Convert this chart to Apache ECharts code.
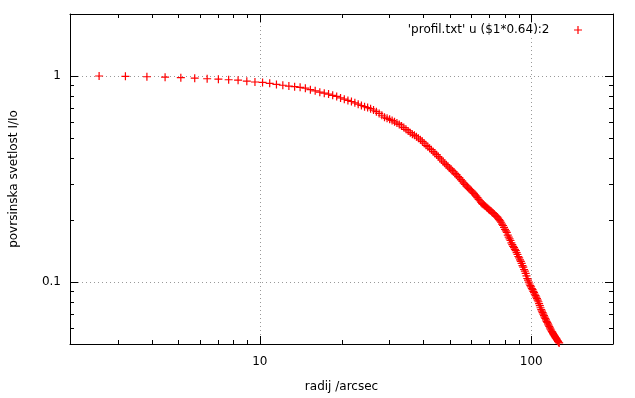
<!DOCTYPE html>
<html>
<head>
<meta charset="UTF-8">
<title>profil</title>
<script src="https://cdn.jsdelivr.net/npm/echarts@6/dist/echarts.min.js"></script>
<style>
  html, body { margin: 0; padding: 0; background: #fff; }
  #chart { width: 635px; height: 398px; }
</style>
</head>
<body>
<div id="chart"></div>
<script>
// radij (column 1 * 0.64), arcsec
const radius = [
  2.56, 3.2, 3.84, 4.48, 5.12, 5.76, 6.4, 7.04, 7.68, 8.32, 8.96, 9.6,
  10.24, 10.88, 11.52, 12.16, 12.8, 13.44, 14.08, 14.72, 15.36, 16, 16.64, 17.28,
  17.92, 18.56, 19.2, 19.84, 20.48, 21.12, 21.76, 22.4, 23.04, 23.68, 24.32, 24.96,
  25.6, 26.24, 26.88, 27.52, 28.16, 28.8, 29.44, 30.08, 30.72, 31.36, 32, 32.64,
  33.28, 33.92, 34.56, 35.2, 35.84, 36.48, 37.12, 37.76, 38.4, 39.04, 39.68, 40.32,
  40.96, 41.6, 42.24, 42.88, 43.52, 44.16, 44.8, 45.44, 46.08, 46.72, 47.36, 48,
  48.64, 49.28, 49.92, 50.56, 51.2, 51.84, 52.48, 53.12, 53.76, 54.4, 55.04, 55.68,
  56.32, 56.96, 57.6, 58.24, 58.88, 59.52, 60.16, 60.8, 61.44, 62.08, 62.72, 63.36,
  64, 64.64, 65.28, 65.92, 66.56, 67.2, 67.84, 68.48, 69.12, 69.76, 70.4, 71.04,
  71.68, 72.32, 72.96, 73.6, 74.24, 74.88, 75.52, 76.16, 76.8, 77.44, 78.08, 78.72,
  79.36, 80, 80.64, 81.28, 81.92, 82.56, 83.2, 83.84, 84.48, 85.12, 85.76, 86.4,
  87.04, 87.68, 88.32, 88.96, 89.6, 90.24, 90.88, 91.52, 92.16, 92.8, 93.44, 94.08,
  94.72, 95.36, 96, 96.64, 97.28, 97.92, 98.56, 99.2, 99.84, 100.48, 101.12, 101.76,
  102.4, 103.04, 103.68, 104.32, 104.96, 105.6, 106.24, 106.88, 107.52, 108.16, 108.8, 109.44,
  110.08, 110.72, 111.36, 112, 112.64, 113.28, 113.92, 114.56, 115.2, 115.84, 116.48, 117.12,
  117.76, 118.4, 119.04, 119.68, 120.32, 120.96, 121.6, 122.24, 122.88, 123.52, 124.16, 124.8,
  125.44, 126.08, 126.72
];
// povrsinska svetlost I/Io
const brightness = [
  1.000, 0.996, 0.992, 0.987, 0.981, 0.976, 0.970, 0.965, 0.959, 0.954, 0.944, 0.935,
  0.931, 0.921, 0.910, 0.902, 0.894, 0.888, 0.881, 0.873, 0.858, 0.847, 0.835, 0.825,
  0.817, 0.806, 0.796, 0.783, 0.772, 0.761, 0.752, 0.741, 0.730, 0.719, 0.710, 0.703,
  0.694, 0.683, 0.671, 0.658, 0.645, 0.631, 0.623, 0.616, 0.608, 0.599, 0.591, 0.582,
  0.572, 0.562, 0.551, 0.541, 0.531, 0.522, 0.515, 0.507, 0.499, 0.490, 0.482, 0.472,
  0.461, 0.454, 0.446, 0.439, 0.429, 0.422, 0.415, 0.406, 0.399, 0.391, 0.383, 0.377,
  0.371, 0.365, 0.358, 0.353, 0.347, 0.342, 0.336, 0.331, 0.325, 0.320, 0.314, 0.309,
  0.303, 0.298, 0.293, 0.289, 0.285, 0.281, 0.277, 0.273, 0.269, 0.265, 0.261, 0.257,
  0.252, 0.248, 0.244, 0.240, 0.238, 0.235, 0.233, 0.230, 0.228, 0.225, 0.223, 0.221,
  0.218, 0.216, 0.214, 0.211, 0.209, 0.207, 0.204, 0.201, 0.198, 0.195, 0.191, 0.188,
  0.184, 0.180, 0.177, 0.174, 0.169, 0.165, 0.162, 0.159, 0.155, 0.152, 0.149, 0.147,
  0.144, 0.142, 0.139, 0.136, 0.133, 0.131, 0.128, 0.126, 0.123, 0.120, 0.118, 0.115,
  0.113, 0.110, 0.107, 0.104, 0.102, 0.0998, 0.0978, 0.0960, 0.0946, 0.0930, 0.0918, 0.0900,
  0.0887, 0.0872, 0.0858, 0.0844, 0.0830, 0.0816, 0.0802, 0.0785, 0.0767, 0.0750, 0.0734, 0.0722,
  0.0710, 0.0698, 0.0686, 0.0675, 0.0665, 0.0655, 0.0644, 0.0636, 0.0626, 0.0618, 0.0608, 0.0599,
  0.0591, 0.0583, 0.0575, 0.0569, 0.0562, 0.0555, 0.0549, 0.0543, 0.0537, 0.0532, 0.0526, 0.0520,
  0.0515, 0.0510, 0.0506
];
const xMinorTicks = [3, 4, 5, 6, 7, 8, 9, 20, 30, 40, 50, 60, 70, 80, 90];
const yMinorTicks = [0.06, 0.07, 0.08, 0.09, 0.2, 0.3, 0.4, 0.5, 0.6, 0.7, 0.8, 0.9];
const seriesName = "'profil.txt' u ($1*0.64):2";

const font = 'DejaVu Sans';
const plus = 'path://M0,3.4h8v1.2h-8z M3.4,0h1.2v8h-1.2z';

const points = radius.map((r, i) => [r, brightness[i]]);

function tickLine(x1, y1, x2, y2) {
  return { type: 'line', shape: { x1, y1, x2, y2 }, style: { stroke: '#000', lineWidth: 1 } };
}
function minorX(params, api) {
  const cs = params.coordSys;
  const x = Math.round(api.coord([api.value(0), 1])[0]) + 0.5;
  return { type: 'group', children: [
    tickLine(x, cs.y + cs.height, x, cs.y + cs.height - 4),
    tickLine(x, cs.y, x, cs.y + 4)
  ]};
}
function minorY(params, api) {
  const cs = params.coordSys;
  const y = Math.round(api.coord([10, api.value(1)])[1]) + 0.5;
  return { type: 'group', children: [
    tickLine(cs.x, y, cs.x + 4, y),
    tickLine(cs.x + cs.width, y, cs.x + cs.width - 4, y)
  ]};
}

const gridLine = { show: true, lineStyle: { color: '#999', type: [1, 3], width: 1 } };
const axisBase = {
  type: 'log', logBase: 10,
  axisLine: { lineStyle: { color: '#000', width: 1 } },
  axisTick: { inside: true, length: 8, lineStyle: { color: '#000' } }
};

const chart = echarts.init(document.getElementById('chart'));
chart.setOption({
  animation: false,
  backgroundColor: '#fff',
  textStyle: { fontFamily: font },
  grid: { left: 67, top: 14, width: 546, height: 330, containLabel: false },
  legend: {
    data: [seriesName], align: 'right', right: 50, top: 23,
    padding: [1, 3], backgroundColor: '#fff',
    itemWidth: 47, itemHeight: 8,
    textStyle: { fontFamily: font, fontSize: 12, color: '#000' }
  },
  xAxis: [
    Object.assign({}, axisBase, {
      min: 2, max: 200, position: 'bottom',
      name: 'radij /arcsec', nameLocation: 'middle', nameGap: 37,
      nameTextStyle: { fontFamily: font, fontSize: 12, color: '#000' },
      axisLabel: { margin: 12, color: '#000', fontSize: 12, fontFamily: font, showMinLabel: false, showMaxLabel: false },
      splitLine: gridLine
    }),
    Object.assign({}, axisBase, {
      min: 2, max: 200, position: 'top',
      axisLabel: { show: false }, splitLine: { show: false }
    })
  ],
  yAxis: [
    Object.assign({}, axisBase, {
      min: 0.05, max: 2, position: 'left',
      name: 'povrsinska svetlost I/Io', nameLocation: 'middle', nameGap: 50, nameRotate: 90,
      nameTextStyle: { fontFamily: font, fontSize: 12, color: '#000' },
      axisLabel: { margin: 9, color: '#000', fontSize: 12, fontFamily: font, showMinLabel: false, showMaxLabel: false },
      splitLine: gridLine
    }),
    Object.assign({}, axisBase, {
      min: 0.05, max: 2, position: 'right',
      axisLabel: { show: false }, splitLine: { show: false }
    })
  ],
  series: [
    {
      name: seriesName, type: 'scatter', data: points,
      symbol: plus, symbolSize: 8,
      itemStyle: { color: '#ff0000', opacity: 1 },
      clip: true, silent: true
    },
    {
      type: 'custom', renderItem: minorX, silent: true, clip: false,
      data: xMinorTicks.map(v => [v, 1]), z: 5
    },
    {
      type: 'custom', renderItem: minorY, silent: true, clip: false,
      data: yMinorTicks.map(v => [10, v]), z: 5
    }
  ]
});
</script>
</body>
</html>
